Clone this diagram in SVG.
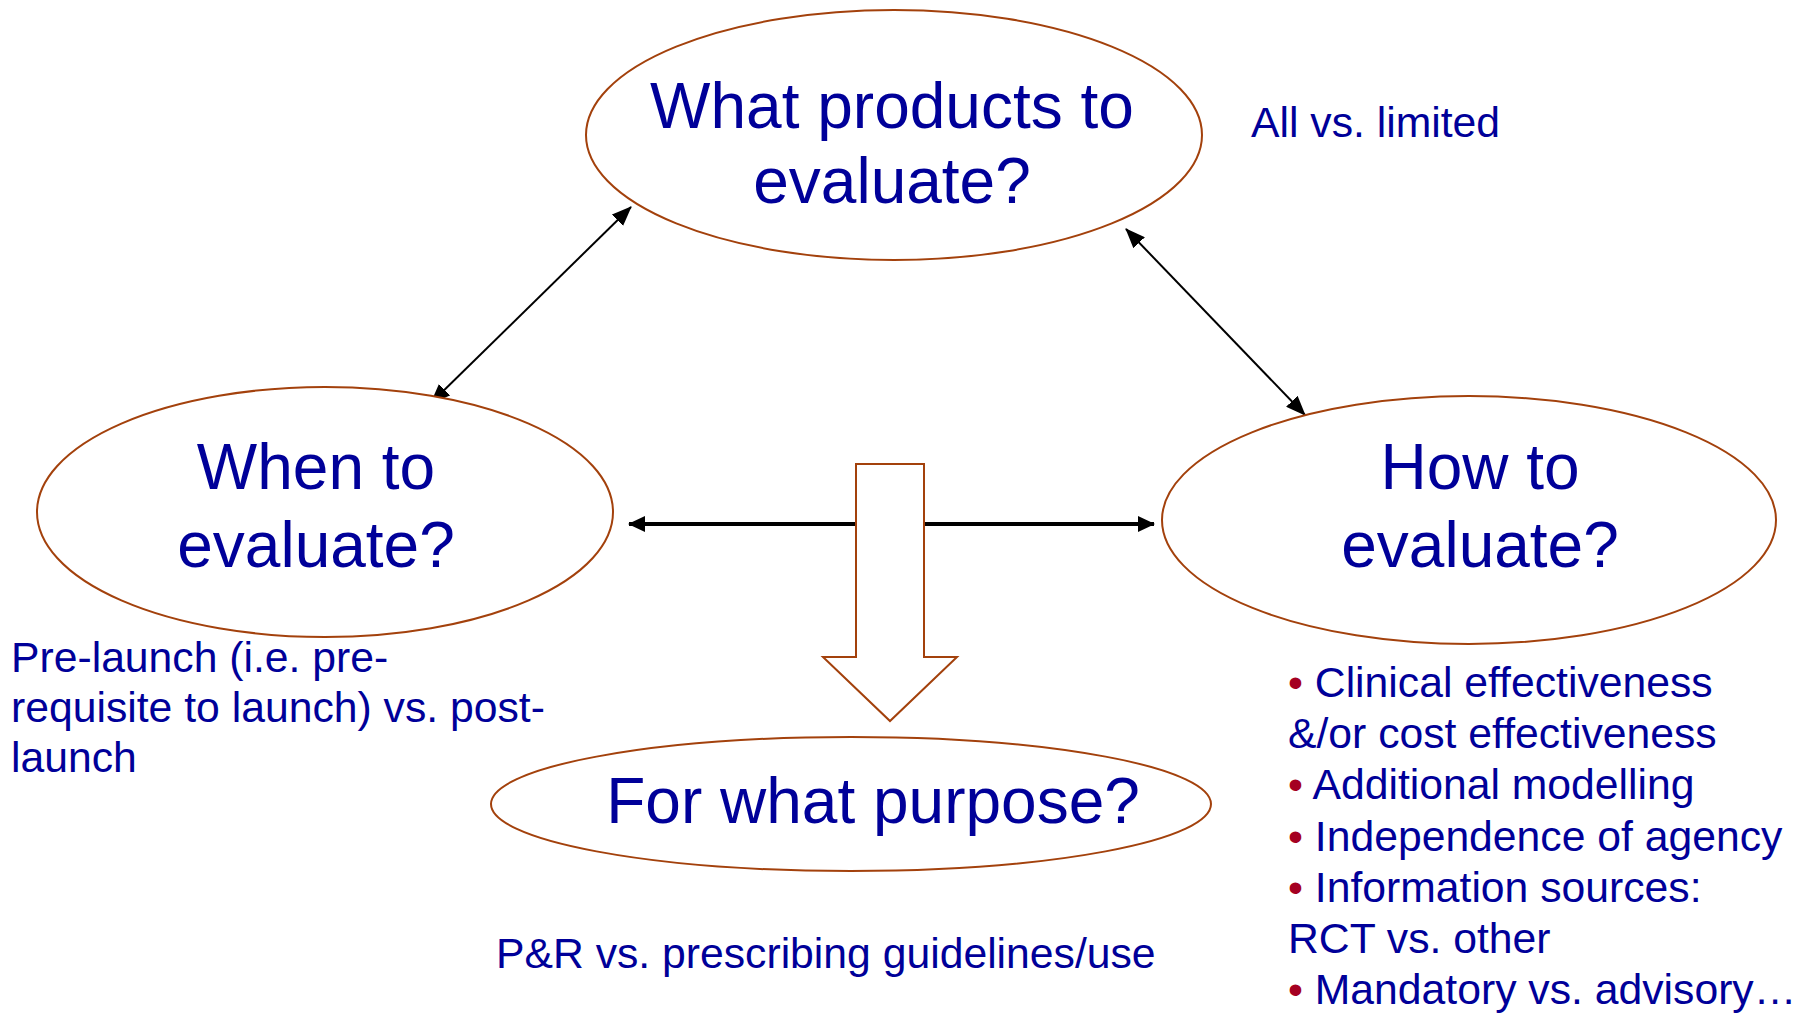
<svg xmlns="http://www.w3.org/2000/svg" width="1798" height="1016" viewBox="0 0 1798 1016">
<style>
.node { fill: #ffffff; stroke: #A3410C; stroke-width: 2; }
.big { font-family: "Liberation Sans", Arial, sans-serif; font-size: 64px; fill: #000099; text-anchor: middle; }
.note { font-family: "Liberation Sans", Arial, sans-serif; font-size: 42.7px; fill: #000099; }
.bul { fill: #A50021; }
.thin { stroke: #000000; stroke-width: 2; fill: none; }
.thick { stroke: #000000; stroke-width: 4; fill: none; }
</style>
<defs>
<marker id="ah" viewBox="0 0 20 16" refX="19" refY="8" markerWidth="20" markerHeight="16" markerUnits="userSpaceOnUse" orient="auto-start-reverse">
<path d="M0,0 L20,8 L0,16 Z" fill="#000000"/>
</marker>
<marker id="ah2" viewBox="0 0 17 16" refX="16" refY="8" markerWidth="17" markerHeight="16" markerUnits="userSpaceOnUse" orient="auto-start-reverse">
<path d="M0,0 L17,8 L0,16 Z" fill="#000000"/>
</marker>
</defs>
<g id="connectors">
<line class="thin" x1="431" y1="403" x2="631" y2="207" marker-start="url(#ah)" marker-end="url(#ah)"/>
<line class="thin" x1="1126" y1="229" x2="1305" y2="415" marker-start="url(#ah)" marker-end="url(#ah)"/>
<line class="thick" x1="629" y1="524" x2="1154" y2="524" marker-start="url(#ah2)" marker-end="url(#ah2)"/>
</g>
<g id="node-what">
<ellipse class="node" cx="894" cy="135" rx="308" ry="125"/>
<text class="big" x="892" y="128">What products to</text>
<text class="big" x="892" y="203">evaluate?</text>
</g>
<g id="node-when">
<ellipse class="node" cx="325" cy="512" rx="288" ry="125"/>
<text class="big" x="316" y="489">When to</text>
<text class="big" x="316" y="567">evaluate?</text>
</g>
<g id="node-how">
<ellipse class="node" cx="1469" cy="520" rx="307" ry="124"/>
<text class="big" x="1480" y="489">How to</text>
<text class="big" x="1480" y="567">evaluate?</text>
</g>
<g id="block-arrow">
<path class="node" d="M856,464 L924,464 L924,657 L957,657 L890,721 L823,657 L856,657 Z"/>
</g>
<g id="node-purpose">
<ellipse class="node" cx="851" cy="804" rx="360" ry="67"/>
<text class="big" x="873" y="823">For what purpose?</text>
</g>
<g id="label-all">
<text class="note" x="1251" y="137">All vs. limited</text>
</g>
<g id="label-prelaunch">
<text class="note" x="11" y="672">Pre-launch (i.e. pre-</text>
<text class="note" x="11" y="722">requisite to launch) vs. post-</text>
<text class="note" x="11" y="772">launch</text>
</g>
<g id="label-pr">
<text class="note" x="496" y="968">P&amp;R vs. prescribing guidelines/use</text>
</g>
<g id="label-how">
<text class="note" x="1288" y="697"><tspan class="bul">•</tspan> Clinical effectiveness</text>
<text class="note" x="1288" y="748">&amp;/or cost effectiveness</text>
<text class="note" x="1288" y="799"><tspan class="bul">•</tspan> Additional modelling</text>
<text class="note" x="1288" y="851"><tspan class="bul">•</tspan> Independence of agency</text>
<text class="note" x="1288" y="902"><tspan class="bul">•</tspan> Information sources:</text>
<text class="note" x="1288" y="953">RCT vs. other</text>
<text class="note" x="1288" y="1004"><tspan class="bul">•</tspan> Mandatory vs. advisory…</text>
</g>
</svg>
